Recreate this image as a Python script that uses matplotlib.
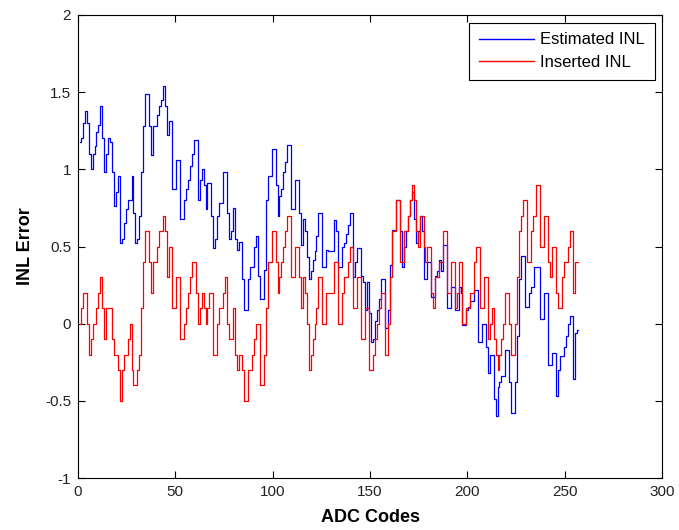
import matplotlib
matplotlib.use("Agg")
import matplotlib.pyplot as plt
from matplotlib.ticker import FuncFormatter

codes_start = 1

inserted_inl = [
    0.0, 0.1, 0.2, 0.2, 0.0, -0.2, -0.1, 0.0, 0.0, 0.1,
    0.2, 0.3, 0.1, -0.1, 0.1, 0.1, 0.1, -0.1, -0.2, -0.2,
    -0.3, -0.5, -0.3, -0.2, -0.2, -0.1, 0.0, -0.3, -0.4, -0.4,
    -0.3, -0.2, 0.1, 0.4, 0.6, 0.6, 0.4, 0.2, 0.4, 0.4,
    0.5, 0.6, 0.6, 0.7, 0.6, 0.3, 0.5, 0.5, 0.1, 0.1,
    0.3, 0.3, -0.1, -0.1, 0.0, 0.1, 0.2, 0.3, 0.4, 0.4,
    0.2, 0.0, 0.1, 0.2, 0.1, 0.0, 0.1, 0.2, 0.2, -0.2,
    -0.2, 0.0, 0.1, 0.1, 0.2, 0.3, 0.0, -0.1, -0.1, 0.1,
    -0.2, -0.3, -0.2, -0.2, -0.3, -0.5, -0.5, -0.3, -0.3, -0.2,
    -0.1, 0.0, 0.0, -0.4, -0.4, -0.2, 0.1, 0.4, 0.4, 0.6,
    0.6, 0.4, 0.2, 0.3, 0.4, 0.5, 0.6, 0.7, 0.7, 0.3,
    0.3, 0.5, 0.5, 0.3, 0.1, 0.3, 0.2, 0.0, -0.3, -0.2,
    -0.1, 0.0, 0.1, 0.3, 0.3, 0.0, 0.0, 0.2, 0.2, 0.2,
    0.2, 0.4, 0.4, 0.0, 0.0, 0.2, 0.3, 0.3, 0.4, 0.5,
    0.5, 0.1, 0.1, 0.3, 0.3, -0.1, -0.1, 0.1, 0.1, -0.3,
    -0.3, -0.2, -0.1, 0.0, 0.1, 0.2, 0.2, -0.2, -0.2, 0.0,
    0.3, 0.6, 0.6, 0.8, 0.8, 0.4, 0.4, 0.6, 0.6, 0.7,
    0.8, 0.9, 0.8, 0.6, 0.5, 0.7, 0.7, 0.5, 0.4, 0.5,
    0.5, 0.2, 0.1, 0.3, 0.3, 0.4, 0.4, 0.6, 0.6, 0.2,
    0.2, 0.4, 0.4, 0.1, 0.2, 0.4, 0.4, 0.0, 0.0, 0.1,
    0.1, 0.2, 0.2, 0.4, 0.5, 0.5, 0.1, 0.1, 0.3, 0.3,
    -0.1, 0.0, 0.1, -0.1, -0.2, -0.3, -0.2, -0.1, 0.0, 0.2,
    0.2, 0.0, -0.2, -0.2, 0.0, 0.3, 0.6, 0.7, 0.8, 0.8,
    0.4, 0.4, 0.6, 0.7, 0.7, 0.9, 0.9, 0.5, 0.5, 0.7,
    0.7, 0.4, 0.3, 0.5, 0.5, 0.2, 0.1, 0.1, 0.3, 0.4,
    0.4, 0.5, 0.6, 0.6, 0.2, 0.4, 0.4,
]

estimated_inl = [
    1.18, 1.20, 1.30, 1.38, 1.30, 1.10, 1.00, 1.10, 1.15, 1.24,
    1.29, 1.41, 1.20, 0.98, 1.10, 1.20, 1.18, 0.98, 0.76, 0.85,
    0.96, 0.52, 0.55, 0.65, 0.74, 0.80, 0.80, 0.96, 0.72, 0.52,
    0.55, 0.70, 0.98, 1.28, 1.49, 1.49, 1.28, 1.09, 1.28, 1.28,
    1.35, 1.41, 1.45, 1.54, 1.41, 1.22, 1.31, 1.31, 0.87, 0.87,
    1.06, 1.06, 0.68, 0.68, 0.80, 0.87, 0.93, 1.02, 1.10, 1.19,
    1.19, 0.80, 0.93, 1.00, 0.90, 0.74, 0.91, 0.91, 0.70, 0.49,
    0.55, 0.70, 0.78, 0.78, 0.98, 0.98, 0.72, 0.55, 0.60, 0.75,
    0.55, 0.48, 0.53, 0.53, 0.29, 0.09, 0.09, 0.29, 0.37, 0.37,
    0.50, 0.57, 0.31, 0.16, 0.16, 0.35, 0.80, 0.96, 0.96, 1.13,
    1.13, 0.90, 0.70, 0.83, 0.87, 0.98, 1.05, 1.16, 1.16, 0.74,
    0.74, 0.93, 0.93, 0.72, 0.51, 0.68, 0.60, 0.43, 0.29, 0.34,
    0.41, 0.47, 0.57, 0.72, 0.72, 0.37, 0.37, 0.48, 0.47, 0.47,
    0.47, 0.67, 0.60, 0.37, 0.37, 0.50, 0.52, 0.58, 0.64, 0.72,
    0.72, 0.30, 0.40, 0.49, 0.49, 0.31, 0.27, 0.09, 0.27, 0.07,
    -0.12, -0.10, 0.02, 0.09, 0.16, 0.29, 0.29, -0.03, -0.03, 0.09,
    0.38, 0.61, 0.61, 0.80, 0.80, 0.60, 0.37, 0.50, 0.60, 0.70,
    0.80, 0.85, 0.68, 0.52, 0.60, 0.70, 0.60, 0.29, 0.29, 0.40,
    0.40, 0.17, 0.17, 0.31, 0.34, 0.41, 0.34, 0.51, 0.51, 0.10,
    0.10, 0.24, 0.24, 0.09, 0.09, 0.24, 0.20, -0.01, -0.01, 0.09,
    0.11, 0.15, 0.15, 0.22, 0.22, -0.12, -0.12, 0.00, 0.00, -0.15,
    -0.32, -0.20, -0.20, -0.49, -0.60, -0.41, -0.38, -0.34, -0.34, -0.17,
    -0.17, -0.38, -0.58, -0.58, -0.38, -0.08, 0.29, 0.44, 0.44, 0.11,
    0.11, 0.20, 0.24, 0.24, 0.37, 0.37, 0.37, 0.03, 0.03, 0.20,
    0.20, -0.27, -0.27, -0.19, -0.19, -0.47, -0.30, -0.21, -0.21, -0.15,
    -0.08, 0.00, 0.05, 0.05, -0.36, -0.06, -0.04,
]

x_ticks = [0, 50, 100, 150, 200, 250, 300]
y_ticks = [-1, -0.5, 0, 0.5, 1, 1.5, 2]
series_labels = ["Estimated INL", "Inserted INL"]
x_label = "ADC Codes"
y_label = "INL Error"

plt.rcParams['font.family'] = ['Liberation Sans', 'DejaVu Sans']

codes = list(range(codes_start, codes_start + len(inserted_inl)))

fig = plt.figure(figsize=(6.79, 5.30), dpi=100)
ax = fig.add_axes([78 / 679, 52 / 530, 584 / 679, 463 / 530])

ax.plot(codes[:len(estimated_inl)], estimated_inl, color=(0, 0, 1), lw=0.9,
        drawstyle='steps-mid', label=series_labels[0])
ax.plot(codes, inserted_inl, color=(1, 0, 0), lw=0.9,
        drawstyle='steps-mid', label=series_labels[1])

ax.set_xlim(0, 300)
ax.set_ylim(-1, 2)
ax.set_xticks(x_ticks)
ax.set_yticks(y_ticks)
ax.yaxis.set_major_formatter(FuncFormatter(lambda v, p: f"{v:g}"))
ax.tick_params(direction='in', length=5, width=0.8, labelsize=11,
               top=True, right=True, pad=5, labelcolor='#222222')
for s in ax.spines.values():
    s.set_linewidth(0.8)

ax.set_xlabel(x_label, fontsize=13, fontweight='bold', labelpad=7)
ax.set_ylabel(y_label, fontsize=13, fontweight='bold', labelpad=8)

leg = ax.legend(loc='upper right', fontsize=12, fancybox=False, framealpha=1,
                edgecolor='black', handlelength=3.3, borderpad=0.6, labelspacing=0.45,
                handletextpad=0.36, borderaxespad=0.45)
leg.get_frame().set_linewidth(0.8)
for h in leg.get_lines():
    h.set_linewidth(1.0)

fig.savefig("out.png", dpi=100)
